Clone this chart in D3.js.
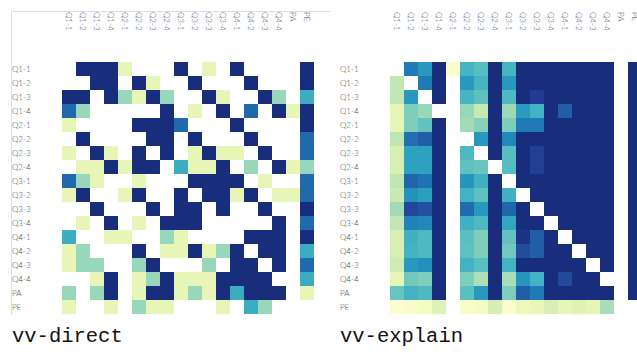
<!DOCTYPE html>
<html>
<head>
<meta charset="utf-8">
<script src="https://cdn.jsdelivr.net/npm/d3@7/dist/d3.min.js"></script>
<style>
  html, body { margin: 0; padding: 0; background: #fff; }
  svg { display: block; }
  .lbl { font-family: Lato, "Open Sans", sans-serif; font-size: 8px; font-weight: 300; fill: #4a4a4a; }
  .title { font-family: "Liberation Mono", "DejaVu Sans Mono", monospace; font-size: 20.5px; fill: #111; }
</style>
</head>
<body>
<script>
// Row/column categories shared by both matrices
const categories = ["Q1-1","Q1-2","Q1-3","Q1-4","Q2-1","Q2-2","Q2-3","Q2-4",
                    "Q3-1","Q3-2","Q3-3","Q3-4","Q4-1","Q4-2","Q4-3","Q4-4","PA","PE"];

// vv-direct: discrete strength level per pair (0 = no link)
const directLevels = [
  [0,5,5,5,1,0,0,0,5,0,1,0,5,0,0,0,0,5],
  [0,0,5,5,0,5,1,0,0,5,0,0,0,5,0,0,0,5],
  [5,5,0,5,2,1,5,2,0,0,5,1,0,0,5,2,0,3],
  [4,2,0,0,0,0,0,5,0,1,0,5,0,4,0,5,1,5],
  [1,0,0,0,0,5,5,5,4,0,0,0,5,0,0,0,0,5],
  [0,5,0,0,0,0,5,5,0,5,0,0,0,5,0,0,0,4],
  [1,0,5,1,0,5,0,5,0,1,5,1,1,0,5,0,0,4],
  [0,1,1,5,1,5,5,0,3,1,1,5,0,2,0,5,1,2],
  [4,2,1,0,0,1,0,0,0,5,5,5,5,0,1,0,0,4],
  [1,5,0,0,1,5,0,0,5,0,5,5,1,5,0,1,1,4],
  [0,0,5,0,0,0,5,0,5,5,0,5,0,0,5,0,0,5],
  [0,1,0,5,0,1,0,5,5,5,0,0,0,0,0,5,0,4],
  [3,0,0,1,1,0,0,2,1,0,0,0,0,5,5,5,0,5],
  [1,2,0,0,0,5,0,1,1,5,1,2,5,0,5,5,0,3],
  [1,2,2,0,0,2,5,0,0,0,2,0,5,5,0,5,0,4],
  [0,0,1,5,0,1,2,5,1,1,1,5,5,5,5,0,0,3],
  [2,0,2,5,0,1,5,5,1,2,1,5,3,5,5,5,0,1],
  [1,0,0,1,0,2,1,1,0,0,0,1,0,3,2,0,0,0]
];

// vv-explain: explained share per pair (null = not computed)
const explainShares = [
  [null,.74,.65,1,.03,.54,.50,1,.54,1,1,1,1,1,1,1,null,1],
  [.27,null,.74,1,null,.65,.54,1,.65,1,1,1,1,1,1,1,null,1],
  [.27,.65,null,1,null,.54,.48,1,.52,1,.93,1,1,1,1,1,null,1],
  [.16,.41,.36,null,null,.36,.26,1,.35,.64,.55,1,.82,1,1,1,null,1],
  [.15,.41,.47,1,null,.34,.39,1,.41,.74,.74,1,1,1,1,1,null,1],
  [.28,.77,.82,1,null,null,.65,1,.70,1,1,1,1,1,1,1,null,1],
  [.21,.62,.62,1,null,.52,null,1,.50,1,.92,1,1,1,1,1,null,1],
  [.21,.62,.62,1,null,.48,.46,null,.50,1,.92,1,1,1,1,1,null,1],
  [.28,.80,.76,1,null,.66,.56,1,null,1,1,1,1,1,1,1,null,1],
  [.25,.67,.63,1,null,.55,.48,1,.56,null,1,1,1,1,1,1,null,1],
  [.34,.90,.86,1,null,.78,.65,1,.80,1,null,1,1,1,1,1,null,1],
  [.27,.72,.70,1,null,.56,.52,1,.60,1,1,null,1,1,1,1,null,1],
  [.21,.56,.52,1,null,.49,.41,1,.47,.97,.82,1,null,1,1,1,null,1],
  [.21,.55,.52,1,null,.48,.41,1,.44,.88,.82,1,1,null,1,1,null,1],
  [.24,.65,.68,1,null,.55,.49,1,.55,1,1,1,1,1,null,1,null,1],
  [.15,.44,.41,1,null,.41,.32,1,.33,.66,.55,1,.89,1,1,null,null,1],
  [.46,.55,.52,1,null,.49,.65,1,.41,.82,.74,1,1,1,1,1,null,1],
  [.03,.05,.08,.19,null,.05,.07,.22,.03,.12,.13,.21,.15,.19,.15,.33,null,null]
];

const titles = ["vv-direct", "vv-explain"];

const W = 637, H = 352;
const svg = d3.select("body").append("svg").attr("width", W).attr("height", H);
svg.append("rect").attr("width", W).attr("height", H).attr("fill", "#fff");

// shared ramp: yellow -> green -> blue, stopping short of the darkest end
const ramp = t => d3.interpolateYlGnBu(0.92 * t);

const directColor = d3.scaleSequential(ramp).domain([0.3, 5]);
const explainColor = d3.scaleSequential(ramp).domain([0, 1]);

function toCells(matrix, keep) {
  const out = [];
  matrix.forEach((row, i) => row.forEach((v, j) => {
    if (keep(v)) out.push({ row: categories[i], col: categories[j], value: v });
  }));
  return out;
}

function heatmap(g, x0, cells, color, title) {
  const x = d3.scaleBand().domain(categories).range([x0, x0 + 252]);
  const y = d3.scaleBand().domain(categories).range([62, 314]);

  g.append("g").selectAll("rect").data(cells).join("rect")
    .attr("x", d => x(d.col))
    .attr("y", d => y(d.row))
    .attr("width", x.bandwidth())
    .attr("height", y.bandwidth())
    .attr("fill", d => color(d.value));

  // row labels on the left, left-aligned
  const left = g.append("g").attr("transform", `translate(${x0 - 50},0)`)
    .call(d3.axisLeft(y).tickSize(0));
  left.select(".domain").remove();
  left.selectAll("text").attr("class", "lbl").attr("x", 0)
    .attr("text-anchor", "start").attr("dy", "0.33em");

  // column labels on top, rotated to read downward
  const top = g.append("g").attr("transform", "translate(0,12)")
    .call(d3.axisTop(x).tickSize(0));
  top.select(".domain").remove();
  top.selectAll("text").attr("class", "lbl")
    .attr("transform", "rotate(90)")
    .attr("x", 0).attr("y", 0).attr("dy", "0.33em")
    .attr("text-anchor", "start");

  g.append("text").attr("class", "title")
    .attr("x", x0 - 50).attr("y", 342).text(title);
}

// faint frame around the first panel
svg.append("path").attr("fill", "none").attr("stroke", "#ddd").attr("stroke-width", 1)
  .attr("d", "M11.5,315V11.5H330");

heatmap(svg.append("g"), 62, toCells(directLevels, v => v > 0), directColor, titles[0]);
heatmap(svg.append("g"), 390, toCells(explainShares, v => v !== null), explainColor, titles[1]);
</script>
</body>
</html>
